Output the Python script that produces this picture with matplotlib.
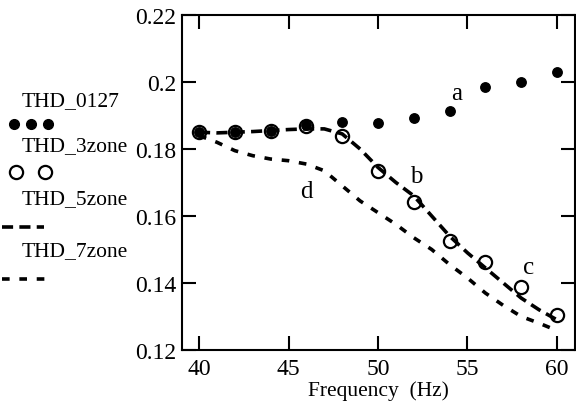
import numpy as np
import matplotlib
matplotlib.use("Agg")
import matplotlib.pyplot as plt
from matplotlib.lines import Line2D

plt.rcParams['font.family'] = ['Liberation Serif', 'DejaVu Serif']
plt.rcParams['lines.scale_dashes'] = False

# data
freq_pts = [40, 42, 44, 46, 48, 50, 52, 54, 56, 58, 60]
thd_0127 = [0.185, 0.185, 0.1853, 0.1872, 0.188, 0.1878, 0.1893, 0.1913, 0.1985, 0.2, 0.203]
thd_3zone = [0.185, 0.185, 0.1855, 0.187, 0.1839, 0.1733, 0.1642, 0.1524, 0.1464, 0.1388, 0.1303]

freq_line = [40, 41, 42, 43, 44, 45, 46, 47, 48, 49, 50, 51, 52, 53, 54, 55, 56, 57, 58, 59, 60]
thd_5zone = [0.185, 0.1848, 0.185, 0.1852, 0.1855, 0.1858, 0.186, 0.186, 0.1845, 0.180, 0.1745,
             0.170, 0.166, 0.160, 0.154, 0.149, 0.1445, 0.140, 0.1355, 0.132, 0.129]
thd_7zone = [0.184, 0.182, 0.1795, 0.178, 0.177, 0.1765, 0.1755, 0.1735, 0.169, 0.1645, 0.161,
             0.1575, 0.1535, 0.150, 0.1455, 0.1415, 0.137, 0.1333, 0.130, 0.128, 0.1258]

labels = ["THD_0127", "THD_3zone", "THD_5zone", "THD_7zone"]

fig = plt.figure(figsize=(5.76, 4.10), dpi=100)
ax = fig.add_axes([0.316, 0.144, 0.682, 0.817])

dash5 = (0, (8, 4.5))
dash7 = (0, (5.5, 7))

ax.plot(freq_line, thd_5zone, color='black', lw=2.6, linestyle=dash5)
ax.plot(freq_line, thd_7zone, color='black', lw=2.6, linestyle=dash7)
ax.plot(freq_pts, thd_3zone, 'o', ms=9.5, mfc='none', mec='black', mew=1.6)
ax.plot(freq_pts, thd_0127, 'o', ms=6.8, color='black')

ax.text(54.4, 0.1967, "a", fontsize=18, ha='center', va='center')
ax.text(52.15, 0.1718, "b", fontsize=18, ha='center', va='center')
ax.text(58.4, 0.1448, "c", fontsize=18, ha='center', va='center')
ax.text(46.0, 0.1676, "d", fontsize=18, ha='center', va='center')

ax.set_xlim(39.05, 61.0)
ax.set_ylim(0.12, 0.22)
ax.set_xticks([40, 45, 50, 55, 60])
ax.set_yticks([0.12, 0.14, 0.16, 0.18, 0.2, 0.22])
ax.set_yticklabels(["0.12", "0.14", "0.16", "0.18", "0.2", "0.22"])
ax.tick_params(direction='in', top=True, right=True, length=10, width=1.5,
               labelsize=17, pad=6)
ax.tick_params(axis='y', pad=4)
for sp in ax.spines.values():
    sp.set_linewidth(1.5)
ax.set_xlabel("Frequency  (Hz)", fontsize=15.5, labelpad=1)

# legend drawn by hand at the left (label above its marker sample)
H = 410.0
W = 576.0
label_y = [102, 147, 200, 252]
mark_y = [125, 173, 228, 280]
for i, lab in enumerate(labels):
    fig.text(22 / W, 1 - label_y[i] / H, lab, fontsize=15.5, ha='left', va='center')
    yy = 1 - mark_y[i] / H
    if i == 0:
        fig.add_artist(Line2D(np.array([14, 31, 48]) / W, [yy] * 3, transform=fig.transFigure,
                              ls='none', marker='o', ms=7, color='black'))
    elif i == 1:
        fig.add_artist(Line2D(np.array([16, 45]) / W, [yy] * 2, transform=fig.transFigure,
                              ls='none', marker='o', ms=9.5, mfc='none', mec='black', mew=1.6))
    elif i == 2:
        fig.add_artist(Line2D(np.array([2, 44]) / W, [yy] * 2, transform=fig.transFigure,
                              color='black', lw=2.6, linestyle=dash5))
    else:
        fig.add_artist(Line2D(np.array([2, 52]) / W, [yy] * 2, transform=fig.transFigure,
                              color='black', lw=2.6, linestyle=dash7))

fig.savefig("out.png", dpi=100)
